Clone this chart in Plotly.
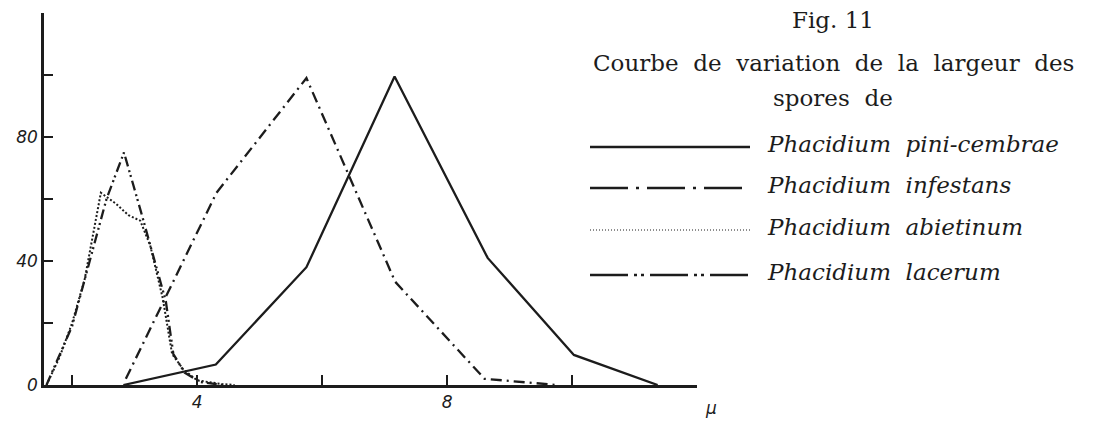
import plotly.graph_objects as go

# spore width (micron) vs. frequency
x_pini = [2.82, 4.3, 5.75, 7.16, 8.65, 10.03, 11.37]
y_pini = [0, 6.6, 38, 99.5, 41, 9.7, 0]

x_infestans = [2.86, 4.31, 5.75, 7.17, 8.6, 9.2, 9.76]
y_infestans = [2, 62, 99, 33.3, 2, 0.9, 0]

x_abietinum = [1.59, 1.8, 2.0, 2.2, 2.46, 2.7, 2.9, 3.09, 3.25, 3.45, 3.6, 3.78, 4.0, 4.4, 4.6]
y_abietinum = [0, 9, 20, 34, 62, 58.5, 54.8, 53, 45, 28, 10, 5, 1.5, 0.3, 0]

x_lacerum = [1.59, 2.0, 2.55, 2.83, 3.1, 3.36, 3.5, 3.62, 3.8, 4.05, 4.4]
y_lacerum = [0, 19, 60, 75, 56, 37, 27, 10, 4, 1, 0]

names = ["Phacidium pini-cembrae", "Phacidium infestans",
         "Phacidium abietinum", "Phacidium lacerum"]

x_ticks = [2, 4, 6, 8, 10]
x_ticktext = ["", "4", "", "8", ""]
y_ticks = [0, 20, 40, 60, 80, 100]
y_ticktext = ["0", "", "40", "", "80", ""]

INK = "#1c1c1c"
SERIF = "DejaVu Serif"
SP = "\u00a0 "   # wide word spacing like the printed caption

W, H = 1104, 423
L, R, T, B = 44, 697, 13, 385   # plot area in pixels


def px(x):
    return (x - L) / (R - L)


def py(y):
    return (B - y) / (B - T)


fig = go.Figure()
fig.add_scatter(x=x_pini, y=y_pini, mode="lines",
                line=dict(color=INK, width=2.3))
fig.add_scatter(x=x_infestans, y=y_infestans, mode="lines",
                line=dict(color=INK, width=2.3, dash="11px,5px,2px,5px"))
fig.add_scatter(x=x_abietinum, y=y_abietinum, mode="lines",
                line=dict(color=INK, width=2, dash="2px,2px"))
fig.add_scatter(x=x_lacerum, y=y_lacerum, mode="lines",
                line=dict(color=INK, width=2.3, dash="10px,4px,2px,3px,2px,4px"))

# hand-drawn legend on the right
legend_dash = ["solid", "38px,8px,3px,8px", "1px,2px", "38px,6px,3px,4px,3px,6px"]
legend_w = [2.4, 2.4, 1.0, 2.4]
legend_y = [147, 188, 230, 275]
for nm, d, w, yy in zip(names, legend_dash, legend_w, legend_y):
    fig.add_shape(type="line", xref="paper", yref="paper",
                  x0=px(590), x1=px(750), y0=py(yy), y1=py(yy),
                  line=dict(color=INK, width=w, dash=d))
    fig.add_annotation(text=nm.replace(" ", SP), xref="paper", yref="paper",
                       x=px(765), y=py(yy - 3), xanchor="left", yanchor="middle",
                       showarrow=False,
                       font=dict(family=SERIF, size=23, color=INK, style="italic"))

caption = [("Fig. 11", 20), ("Courbe de variation de la largeur des", 63), ("spores de", 98)]
for txt, yy in caption:
    fig.add_annotation(text=txt.replace(" ", SP) if yy > 20 else txt,
                       xref="paper", yref="paper",
                       x=px(833), y=py(yy), xanchor="center", yanchor="middle",
                       showarrow=False, font=dict(family=SERIF, size=23, color=INK))

fig.add_annotation(text="\u03bc", xref="paper", yref="paper",
                   x=px(711), y=py(408), xanchor="center", yanchor="middle",
                   showarrow=False,
                   font=dict(family="DejaVu Sans", size=17, color=INK, style="italic"))

fig.update_xaxes(range=[1.55, 12], showgrid=False, zeroline=False,
                 showline=True, linecolor=INK, linewidth=2.5,
                 tickvals=x_ticks, ticktext=x_ticktext,
                 ticks="inside", ticklen=10, tickwidth=2, tickcolor=INK,
                 tickfont=dict(family="DejaVu Sans", size=17, color=INK, style="italic"))
fig.update_yaxes(range=[0, 120], showgrid=False, zeroline=False,
                 showline=True, linecolor=INK, linewidth=2.5,
                 tickvals=y_ticks, ticktext=y_ticktext,
                 ticks="inside", ticklen=9, tickwidth=2, tickcolor=INK,
                 tickfont=dict(family="DejaVu Sans", size=17, color=INK, style="italic"))

fig.update_layout(width=W, height=H, showlegend=False,
                  margin=dict(l=L, r=W - R, t=T, b=H - B),
                  plot_bgcolor="white", paper_bgcolor="white")

fig.write_html("out.html", config={"displayModeBar": False},
               post_script="document.body.style.margin='0';")
